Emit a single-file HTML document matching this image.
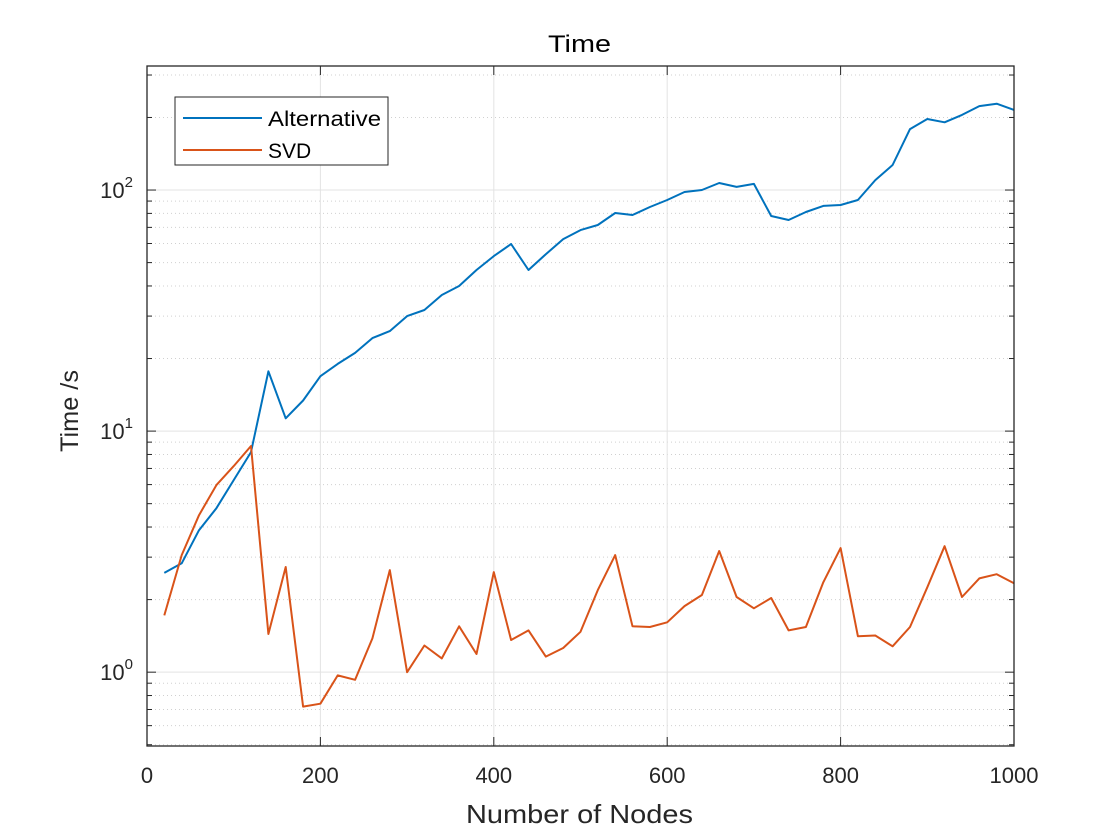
<!DOCTYPE html>
<html><head><meta charset="utf-8"><style>
body{margin:0;background:#fff;}
svg{display:block;font-family:"Liberation Sans",sans-serif;}
</style></head><body>
<svg id="chart" width="1120" height="840" viewBox="0 0 1120 840"></svg>
<script>
const nodes=[20,40,60,80,100,120,140,160,180,200,220,240,260,280,300,320,340,360,380,400,420,440,460,480,500,520,540,560,580,600,620,640,660,680,700,720,740,760,780,800,820,840,860,880,900,920,940,960,980,1000];
const altTimes=[2.58,2.83,3.88,4.79,6.26,8.18,17.7,11.3,13.4,16.9,19.0,21.1,24.3,26.0,30.0,31.8,36.7,40.0,46.6,53.2,59.7,46.6,54.2,62.6,68.2,71.6,80.3,78.8,85.0,90.9,98.1,100,107,103,106,78,75.1,81.1,85.9,86.7,90.9,110,127,179,197,191,205,223,228,215];
const svdTimes=[1.72,3.06,4.48,5.97,7.16,8.67,1.44,2.73,0.72,0.74,0.97,0.93,1.38,2.65,1.0,1.29,1.14,1.55,1.19,2.60,1.36,1.49,1.16,1.26,1.47,2.19,3.06,1.55,1.54,1.61,1.88,2.09,3.18,2.05,1.84,2.03,1.49,1.54,2.36,3.27,1.41,1.42,1.28,1.54,2.25,3.33,2.05,2.45,2.55,2.34];
const xTicks=[0,200,400,600,800,1000];
const yDecades=[0,1,2];
const L=147,R=1014,T=66,B=746;
const xMin=0,xMax=1000,yMinLog=Math.log10(0.494),yMaxLog=2+124/241;
const sx=v=>L+(v-xMin)/(xMax-xMin)*(R-L);
const sy=v=>B-(Math.log10(v)-yMinLog)/(yMaxLog-yMinLog)*(B-T);
const svg=document.getElementById('chart');
const NS='http://www.w3.org/2000/svg';
function mk(tag,attrs,parent){const e=document.createElementNS(NS,tag);for(const k in attrs)e.setAttribute(k,attrs[k]);(parent||svg).appendChild(e);return e;}
for(let d=-1;d<=2;d++){for(let m=2;m<=9;m++){const v=m*Math.pow(10,d);const ly=Math.log10(v);if(ly<yMinLog||ly>yMaxLog)continue;const y=sy(v);
const g=mk('line',{x1:L,x2:R,y1:y,y2:y,stroke:'#d0d0d0','stroke-width':1,'stroke-dasharray':'1,3'});


mk('line',{x1:L,x2:L+5,y1:y,y2:y,stroke:'#262626','stroke-width':1});
mk('line',{x1:R,x2:R-5,y1:y,y2:y,stroke:'#262626','stroke-width':1});}}
yDecades.forEach(d=>{const y=sy(Math.pow(10,d));
const g=mk('line',{x1:L,x2:R,y1:y,y2:y,stroke:'#e3e3e3','stroke-width':1});


mk('line',{x1:L,x2:L+9,y1:y,y2:y,stroke:'#262626','stroke-width':1});
mk('line',{x1:R,x2:R-9,y1:y,y2:y,stroke:'#262626','stroke-width':1});
const t=mk('text',{x:133,y:y+8,'text-anchor':'end','font-size':22,fill:'#262626'});


t.textContent='10';const s=mk('tspan',{dy:-11,'font-size':15},t);s.textContent=String(d);});
xTicks.forEach(v=>{const x=sx(v);
if(v>xMin&&v<xMax){const g=mk('line',{x1:x,x2:x,y1:T,y2:B,stroke:'#e3e3e3','stroke-width':1});

}
mk('line',{x1:x,x2:x,y1:B,y2:B-9,stroke:'#262626','stroke-width':1});
mk('line',{x1:x,x2:x,y1:T,y2:T+9,stroke:'#262626','stroke-width':1});
const t=mk('text',{x:x,y:783,'text-anchor':'middle','font-size':22,fill:'#262626'});


t.textContent=String(v);});
function series(vals,color,name){const p=vals.map((v,i)=>(i?'L':'M')+sx(nodes[i]).toFixed(1)+','+sy(v).toFixed(1)).join(' ');
const e=mk('path',{d:p,fill:'none',stroke:color,'stroke-width':2,'stroke-linejoin':'round'});

}
series(altTimes,'#0072bd','alternative-line');
series(svdTimes,'#d95319','svd-line');
const box=mk('rect',{x:L,y:T,width:R-L,height:B-T,fill:'none',stroke:'#262626','stroke-width':1.3});


</script>
<svg style="position:absolute;left:0;top:0" width="1120" height="840">
<text x="548" y="52" textLength="63" lengthAdjust="spacingAndGlyphs" font-size="24" fill="#000" font-family="Liberation Sans, sans-serif">Time</text>
<text x="466" y="823" textLength="227" lengthAdjust="spacingAndGlyphs" font-size="26" fill="#262626" font-family="Liberation Sans, sans-serif">Number of Nodes</text>
<text transform="translate(78,452) rotate(-90)" textLength="82" lengthAdjust="spacingAndGlyphs" font-size="25" fill="#262626" font-family="Liberation Sans, sans-serif">Time /s</text>
<g>
<rect x="175" y="97" width="213" height="68" fill="#fff" stroke="#262626" stroke-width="1"/>
<line x1="183" x2="262" y1="118" y2="118" stroke="#0072bd" stroke-width="2"/>
<text x="268" y="126" textLength="113" lengthAdjust="spacingAndGlyphs" font-size="21" fill="#000" font-family="Liberation Sans, sans-serif">Alternative</text>
<line x1="183" x2="262" y1="150" y2="150" stroke="#d95319" stroke-width="2"/>
<text x="268" y="158" font-size="21" fill="#000" font-family="Liberation Sans, sans-serif">SVD</text>
</g>
</svg>
</body></html>
